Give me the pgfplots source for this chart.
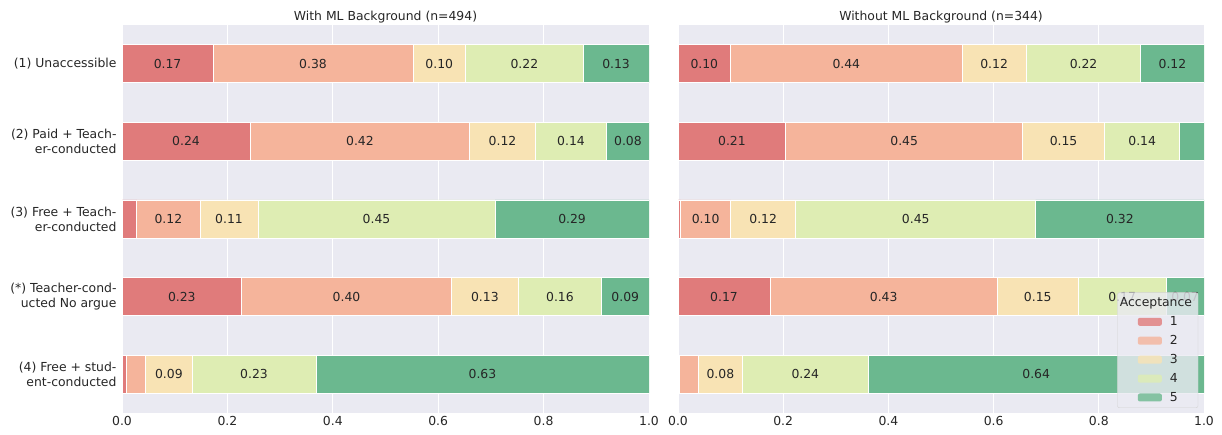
\documentclass[border=0pt]{standalone}
\usepackage{pgfplots}
\pgfplotsset{compat=1.18}
\usepackage{fontspec}
\setmainfont{DejaVu Sans}
\definecolor{bgc}{HTML}{EAEAF2}
\definecolor{cA}{HTML}{E07B7B}
\definecolor{cB}{HTML}{F5B49B}
\definecolor{cC}{HTML}{F8E3B4}
\definecolor{cD}{HTML}{DEEDB3}
\definecolor{cE}{HTML}{6BB88F}
\definecolor{txtc}{HTML}{262626}
\newcommand{\fs}{\fontsize{12.4}{15}\selectfont}
\pgfplotsset{
  panel/.style={
    scale only axis, height=388pt,
    xbar stacked, bar width=0.49,
    xmin=0, xmax=1, ymin=-0.5, ymax=4.5, y dir=reverse,
    axis background/.style={fill=bgc},
    axis line style={draw=none}, tick style={draw=none},
    xmajorgrids, grid style={white, line width=1pt},
    xtick={0,0.2,0.4,0.6,0.8,1.0},
    xticklabels={0.0,0.2,0.4,0.6,0.8,1.0},
    ytick={0,1,2,3,4},
    tick label style={font=\fs, text=txtc},
    title style={font=\fs, text=txtc, yshift=-8pt},
    every axis plot/.append style={draw=white, line width=0.8pt},
    nodes near coords,
    point meta=explicit symbolic,
    every node near coord/.append style={font=\fs, text=txtc},
  }
}
\begin{document}
\begin{tikzpicture}
\useasboundingbox (0,0) rectangle (1222pt,435pt);
\begin{axis}[panel, width=527pt, at={(122pt,22pt)}, anchor=south west,
  title={With ML Background (n=494)},
  yticklabel style={align=right, xshift=-2pt},
  yticklabels={(1) Unaccessible, {(2) Paid + Teach-\\er-conducted}, {(3) Free + Teach-\\er-conducted}, {(*) Teacher-cond-\\ucted No argue}, {(4) Free + stud-\\ent-conducted}},
]
\addplot[fill=cA] coordinates {(0.173,0) [0.17] (0.243,1) [0.24] (0.028,2) [{}] (0.227,3) [0.23] (0.008,4) [{}]};
\addplot[fill=cB] coordinates {(0.379,0) [0.38] (0.417,1) [0.42] (0.120,2) [0.12] (0.398,3) [0.40] (0.037,4) [{}]};
\addplot[fill=cC] coordinates {(0.100,0) [0.10] (0.124,1) [0.12] (0.110,2) [0.11] (0.127,3) [0.13] (0.088,4) [0.09]};
\addplot[fill=cD] coordinates {(0.223,0) [0.22] (0.136,1) [0.14] (0.450,2) [0.45] (0.158,3) [0.16] (0.235,4) [0.23]};
\addplot[fill=cE] coordinates {(0.125,0) [0.13] (0.080,1) [0.08] (0.292,2) [0.29] (0.090,3) [0.09] (0.632,4) [0.63]};
\end{axis}
\begin{axis}[panel, width=526pt, at={(678pt,22pt)}, anchor=south west,
  title={Without ML Background (n=344)},
  yticklabels={},
  legend style={at={(0.989,0.013)}, anchor=south east, fill=bgc, fill opacity=0.8, text opacity=1,
    draw=lightgray!70, rounded corners=2pt, font=\fs, text=txtc, cells={anchor=west},
    inner xsep=4pt, inner ysep=3pt, row sep=4.3pt},
  legend image code/.code={\path (-16pt,0pt); \fill[#1,draw=none] (0pt,-4pt) rectangle (24pt,4pt);},
]
\addlegendimage{empty legend}
\addplot[fill=cA] coordinates {(0.100,0) [0.10] (0.205,1) [0.21] (0.005,2) [{}] (0.175,3) [0.17] (0.002,4) [{}]};
\addplot[fill=cB] coordinates {(0.440,0) [0.44] (0.450,1) [0.45] (0.095,2) [0.10] (0.432,3) [0.43] (0.037,4) [{}]};
\addplot[fill=cC] coordinates {(0.122,0) [0.12] (0.156,1) [0.15] (0.124,2) [0.12] (0.154,3) [0.15] (0.083,4) [0.08]};
\addplot[fill=cD] coordinates {(0.218,0) [0.22] (0.143,1) [0.14] (0.456,2) [0.45] (0.167,3) [0.17] (0.240,4) [0.24]};
\addplot[fill=cE] coordinates {(0.120,0) [0.12] (0.046,1) [{}] (0.320,2) [0.32] (0.072,3) [0.07] (0.638,4) [0.64]};
\legend{\hspace*{-44pt}Acceptance,\hspace*{6pt}1,\hspace*{6pt}2,\hspace*{6pt}3,\hspace*{6pt}4,\hspace*{6pt}5}
\end{axis}
\end{tikzpicture}
\end{document}
